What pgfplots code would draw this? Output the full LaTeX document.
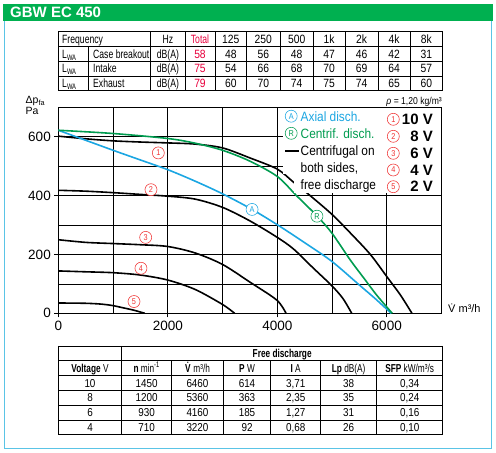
\documentclass[border=0pt]{standalone}
\usepackage{fontspec}
\setmainfont{Liberation Sans}
\newfontfamily\cond{Liberation Sans}[FakeStretch=0.72]
\newfontfamily\condn{Liberation Sans}[FakeStretch=0.86]
\newfontfamily\condl{Liberation Sans}[FakeStretch=0.88]
\usepackage{pgfplots}
\pgfplotsset{compat=1.18}
\definecolor{hdrgreen}{RGB}{0,176,80}
\definecolor{frameblue}{RGB}{90,196,230}
\definecolor{axblue}{RGB}{27,166,226}
\definecolor{cgreen}{RGB}{0,156,80}
\definecolor{cred}{RGB}{240,50,50}
\definecolor{totred}{RGB}{232,0,60}
\tikzset{
  circ/.style={circle,draw=#1,text=#1,fill=white,line width=0.55pt,inner sep=0pt,minimum size=12pt,font=\fontsize{8.5}{8.5}\selectfont\condn},
  tw/.style={inner sep=0pt,anchor=base west},
  tc/.style={inner sep=0pt,anchor=base},
}
\begin{document}
\begin{tikzpicture}[x=1pt,y=1pt]
\useasboundingbox (0pt,0pt) rectangle (496pt,453pt);
\begin{scope}[yshift=453pt,y=-1pt]
  % header and frame
  \fill[hdrgreen] (3.3,4) rectangle (492.7,21);
  \node[tw,text=white,font=\bfseries\fontsize{15}{15}\selectfont] at (10,17.6) {GBW EC 450};
  \draw[frameblue,line width=1.3pt] (4.7,21) -- (4.7,448.7) -- (491.8,448.7) -- (491.8,21);
  % top table
  \begin{scope}[line width=0.8pt]
    \foreach \y in {31.7,46.7,61.7,76,90.7} \draw (58.3,\y) -- (442.7,\y);
    \foreach \x in {58.3,150.7,185,215,246.7,280,313.3,345,378.3,410,442.7} \draw (\x,31.7) -- (\x,90.7);
    \draw (88.3,46.7) -- (88.3,90.7);
  \end{scope}
  \node[tw,font=\fontsize{12}{12}\selectfont\cond] at (62,43.4) {Frequency};
  \node[tc,font=\fontsize{12}{12}\selectfont\cond] at (167.85,43.4) {Hz};
  \node[tc,font=\fontsize{12}{12}\selectfont\cond,text=totred] at (200,43.4) {Total};
  \foreach \x/\t in {230.85/125,263.35/250,296.65/500,329.15/1k,361.65/2k,394.15/4k,426.35/8k}
    \node[tc,font=\fontsize{12}{12}\selectfont\condn] at (\x,43.4) {\t};
  \foreach \yb/\lab in {58.4/Case breakout,73/Intake,87.5/Exhaust}{
    \node[tw,font=\fontsize{12}{12}\selectfont\cond] at (62,\yb) {L\textsubscript{WA}};
    \node[tw,font=\fontsize{12}{12}\selectfont\cond] at (93,\yb) {\lab};
    \node[tc,font=\fontsize{12}{12}\selectfont\cond] at (167.85,\yb) {dB(A)};
  }
  \foreach \yb/\a/\b/\c/\d/\e/\f/\g/\h in {58.4/58/48/56/48/47/46/42/31, 73/75/54/66/68/70/69/64/57, 87.5/79/60/70/74/75/74/65/60}{
    \node[tc,font=\fontsize{12}{12}\selectfont\condn,text=totred] at (200,\yb) {\a};
    \node[tc,font=\fontsize{12}{12}\selectfont\condn] at (230.85,\yb) {\b};
    \node[tc,font=\fontsize{12}{12}\selectfont\condn] at (263.35,\yb) {\c};
    \node[tc,font=\fontsize{12}{12}\selectfont\condn] at (296.65,\yb) {\d};
    \node[tc,font=\fontsize{12}{12}\selectfont\condn] at (329.15,\yb) {\e};
    \node[tc,font=\fontsize{12}{12}\selectfont\condn] at (361.65,\yb) {\f};
    \node[tc,font=\fontsize{12}{12}\selectfont\condn] at (394.15,\yb) {\g};
    \node[tc,font=\fontsize{12}{12}\selectfont\condn] at (426.35,\yb) {\h};
  }
  % bottom table
  \begin{scope}[line width=0.8pt]
    \foreach \y in {346,360.7,375.7,390.7,405.3,420,434.3} \draw (58.3,\y) -- (442.7,\y);
    \foreach \x in {58.3,121.7,442.7} \draw (\x,346) -- (\x,434.3);
    \foreach \x in {171.7,223.3,270.7,320.7,376.7} \draw (\x,360.7) -- (\x,434.3);
  \end{scope}
  \begin{scope}[every node/.append style={font=\fontsize{11.5}{11.5}\selectfont\cond}]
    \node[tc] at (282.2,357.3) {\textbf{Free discharge}};
    \node[tc] at (90,372.2) {\textbf{Voltage} V};
    \node[tc] at (146.7,372.2) {\textbf{n} min\textsuperscript{-1}};
    \node[tc] at (197.5,372.2) {\textbf{\.{V}} m³/h};
    \node[tc] at (247,372.2) {\textbf{P} W};
    \node[tc] at (295.7,372.2) {\textbf{I} A};
    \node[tc] at (348.7,372.2) {\textbf{Lp} dB(A)};
    \node[tc] at (409.7,372.2) {\textbf{SFP} kW/m³/s};
  \end{scope}
  \foreach \yb/\a/\b/\c/\d/\e/\f/\g in {387.2/10/1450/6460/614/{3,71}/38/{0,34}, 402/8/1200/5360/363/{2,35}/35/{0,24}, 416.7/6/930/4160/185/{1,27}/31/{0,16}, 431.2/4/710/3220/92/{0,68}/26/{0,10}}{
    \node[tc,font=\fontsize{11.5}{11.5}\selectfont\condn] at (90,\yb) {\a};
    \node[tc,font=\fontsize{11.5}{11.5}\selectfont\condn] at (146.7,\yb) {\b};
    \node[tc,font=\fontsize{11.5}{11.5}\selectfont\condn] at (197.5,\yb) {\c};
    \node[tc,font=\fontsize{11.5}{11.5}\selectfont\condn] at (247,\yb) {\d};
    \node[tc,font=\fontsize{11.5}{11.5}\selectfont\condn] at (295.7,\yb) {\e};
    \node[tc,font=\fontsize{11.5}{11.5}\selectfont\condn] at (348.7,\yb) {\f};
    \node[tc,font=\fontsize{11.5}{11.5}\selectfont\condn] at (409.7,\yb) {\g};
  }
\end{scope}

\begin{axis}[
  at={(58.3pt,139.7pt)}, anchor=south west,
  scale only axis, width=383.2pt, height=206pt,
  xmin=0, xmax=7000, ymin=0, ymax=700,
  xtick={0,2000,4000,6000}, minor xtick={1000,3000,5000},
  ytick={0,200,400,600}, minor ytick={100,300,500},
  scaled x ticks=false, scaled y ticks=false,
  grid=both,
  major grid style={black, line width=0.7pt},
  minor grid style={black, line width=0.7pt},
  axis line style={black, line width=0.9pt},
  tick align=outside, tick pos=left,
  major tick length=4pt, minor tick length=0pt,
  every tick/.style={black, line width=0.7pt},
  ticklabel style={font=\fontsize{13.5}{14}\selectfont},
  /pgf/number format/assume math mode=true,
  /pgf/number format/1000 sep={},
  every axis plot/.append style={line width=1.6pt, smooth, tension=0.5},
]
\addplot[black] coordinates {(0,602)(500,593)(1000,586)(1500,582)(2000,579)(2500,575)(3000,562)(3500,528)(4000,490)(4300,445)(4600,400)(5000,336)(5350,270)(5700,200)(6000,125)(6250,62)(6460,0)};
\addplot[black] coordinates {(0,418)(500,415)(1000,410)(1500,404)(2000,398)(2500,388)(3000,360)(3500,314)(4000,258)(4300,218)(4650,155)(5000,93)(5200,50)(5360,0)};
\addplot[black] coordinates {(0,250)(500,241)(1000,237)(1500,233)(2000,227)(2500,205)(3000,166)(3500,106)(3990,45)(4160,0)};
\addplot[black] coordinates {(0,144)(500,141)(1000,138)(1500,130)(2000,113)(2500,81)(3000,30)(3220,0)};
\addplot[black] coordinates {(0,35)(500,34)(800,31)(1000,26)(1200,18)(1370,11)(1580,0)};
\addplot[axblue] coordinates {(0,622)(500,588)(1000,554)(1500,521)(2000,488)(2500,449)(3000,406)(3530,354)(4000,301)(4500,240)(5000,176)(5500,96)(5800,48)(6080,0)};
\addplot[cgreen] coordinates {(0,622)(1000,611)(2000,594)(2500,578)(3000,554)(3500,517)(4000,465)(4350,400)(4730,330)(5000,272)(5330,182)(5600,115)(5815,62)(6100,0)};
\node[circ=cred] at (axis cs:1827,545) {1};
\node[circ=cred] at (axis cs:1693,420) {2};
\node[circ=cred] at (axis cs:1596,258) {3};
\node[circ=cred] at (axis cs:1510,153) {4};
\node[circ=cred] at (axis cs:1383,40) {5};
\node[circ=axblue] at (axis cs:3540,353) {A};
\node[circ=cgreen] at (axis cs:4725,330) {R};
\end{axis}

\begin{scope}[yshift=453pt,y=-1pt]
  % legend background
  \fill[white] (283,108.3) rectangle (441,174);
  \fill[white] (294,174) rectangle (441,193.5);
  \node[circ=axblue] at (291.2,116.2) {A};
  \node[circ=cgreen] at (291.2,133.3) {R};
  \draw[black,line width=1.6pt] (285,151) -- (299.3,151);
  \begin{scope}[every node/.append style={tw,font=\fontsize{13.5}{13.5}\selectfont\condl}]
    \node[text=axblue] at (300.5,121.5) {Axial disch.};
    \node[text=cgreen] at (300.5,139) {Centrif. disch.};
    \node at (300.5,156) {Centrifugal on};
    \node at (300.5,173) {both sides,};
    \node at (300.5,189.5) {free discharge};
  \end{scope}
  \foreach \y/\n in {119.3/1,136.3/2,153.3/3,170/4,186.7/5} \node[circ=cred] at (393.3,\y) {\n};
  \foreach \y/\t in {125/10 V,141.8/8 V,158.5/6 V,175.2/4 V,191.8/2 V}
    \node[inner sep=0pt,anchor=base east,font=\bfseries\fontsize{15}{15}\selectfont] at (433,\y) {\t};
  % rho
  \node[inner sep=0pt,anchor=base east,font=\fontsize{10}{10}\selectfont\condn] at (442,104.3) {\textit{ρ} = 1,20 kg/m³};
  % axis labels
  \node[tw,font=\fontsize{10.5}{10.5}\selectfont] at (25.5,103.5) {Δp\textsubscript{fa}};
  \node[tw,font=\fontsize{10.5}{10.5}\selectfont] at (25.5,115) {Pa};
  \node[tw,font=\fontsize{11}{11}\selectfont] at (448,313) {\.{V} m³/h};
\end{scope}
\end{tikzpicture}
\end{document}
